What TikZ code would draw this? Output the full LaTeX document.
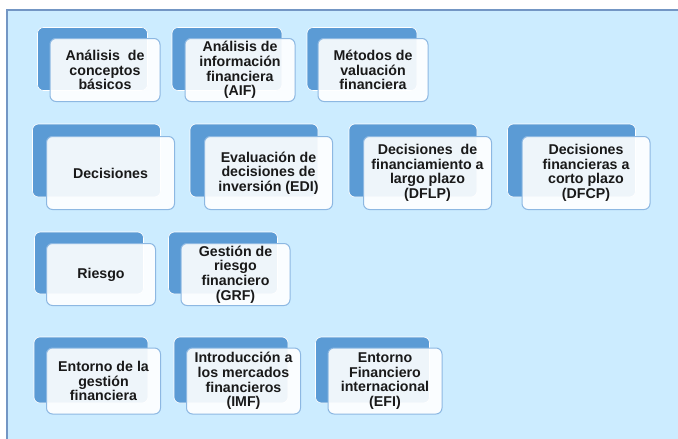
\documentclass[tikz,border=0pt]{standalone}
\usepackage{fontspec}
\setmainfont{Liberation Sans}
\usetikzlibrary{positioning}

\definecolor{fondoazul}{HTML}{CCECFF}
\definecolor{bordefondo}{HTML}{7396C4}
\definecolor{azulatras}{HTML}{5B9BD5}
\definecolor{bordefrente}{HTML}{8DB8E2}

\tikzset{
	atras/.style={rectangle, rounded corners=6pt, fill=azulatras, draw=white, line width=0.6pt},
	frente/.style={rectangle, rounded corners=6pt, fill=white, fill opacity=0.9, text opacity=1,
		draw=bordefrente, line width=1pt, align=center, inner sep=1pt,
		font=\fontsize{14.2}{14.6}\selectfont\bfseries, text=black!90},
	fila1/.style={minimum width=110pt, minimum height=63pt},
	fila2/.style={minimum width=128pt, minimum height=73pt},
	fila3/.style={minimum width=109pt, minimum height=62pt},
	fila4/.style={minimum width=114pt, minimum height=66pt}
}

\begin{document}
\begin{tikzpicture}[x=1pt, y=-1pt]
	\useasboundingbox (0,0) rectangle (678,439);
	\clip (0,0) rectangle (678,439);
	\draw[fill=fondoazul, draw=bordefondo, line width=1.5pt] (7,10) rectangle (690,450);

	% primera fila
	\node[atras, fila1] (a0) at (92.5,59) {};
	\node[frente, fila1] (a1) at (105,70) {Análisis\ \ de\\conceptos\\básicos};
	\node[atras, fila1] (b0) at (227,59) {};
	\node[frente, fila1] (b1) at (240,70) {Análisis de\\información\\financiera\\(AIF)};
	\node[atras, fila1] (c0) at (362,59) {};
	\node[frente, fila1] (c1) at (373,70) {Métodos de\\valuación\\financiera};

	% segunda fila
	\node[atras, fila2] (d0) at (96.5,160.5) {};
	\node[frente, fila2] (d1) at (110.5,173) {Decisiones};
	\node[atras, fila2] (e0) at (254,160.5) {};
	\node[frente, fila2] (e1) at (268.5,173) {Evaluación de\\decisiones de\\inversión (EDI)};
	\node[atras, fila2] (f0) at (413,160.5) {};
	\node[frente, fila2] (f1) at (427.5,173) {Decisiones\ \ de\\financiamiento a\\largo plazo\\(DFLP)};
	\node[atras, fila2] (g0) at (571.5,160.5) {};
	\node[frente, fila2] (g1) at (586,173) {Decisiones\\financieras a\\corto plazo\\(DFCP)};

	% tercera fila
	\node[atras, fila3] (h0) at (89,263) {};
	\node[frente, fila3] (h1) at (101,274.5) {Riesgo};
	\node[atras, fila3] (i0) at (223,263) {};
	\node[frente, fila3] (i1) at (235.5,274.5) {Gestión de\\riesgo\\financiero\\(GRF)};

	% cuarta fila
	\node[atras, fila4] (j0) at (91,370) {};
	\node[frente, fila4] (j1) at (103.5,381) {Entorno de la\\gestión\\financiera};
	\node[atras, fila4] (k0) at (231,370) {};
	\node[frente, fila4] (k1) at (243.5,381) {Introducción a\\los mercados\\financieros\\(IMF)};
	\node[atras, fila4] (l0) at (372.5,370) {};
	\node[frente, fila4] (l1) at (385,381) {Entorno\\Financiero\\internacional\\(EFI)};
\end{tikzpicture}
\end{document}
